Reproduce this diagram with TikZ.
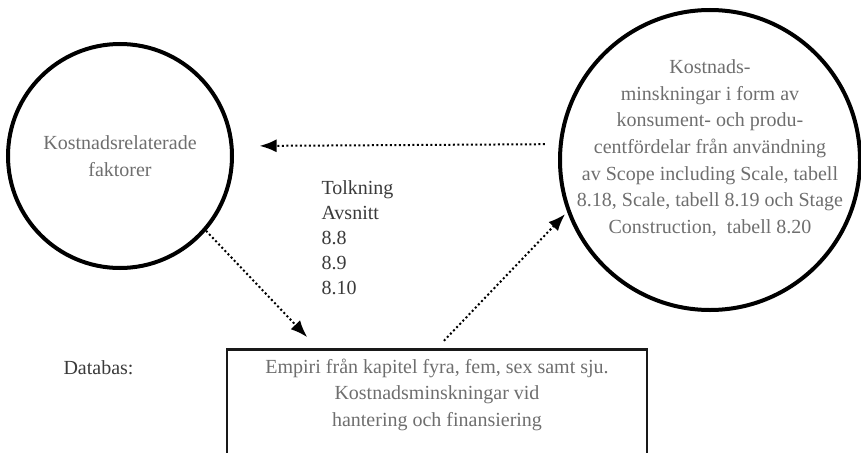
\documentclass[tikz,border=0pt]{standalone}
\usepackage{fontspec}
\setmainfont{Liberation Serif}
\usetikzlibrary{positioning}
\usetikzlibrary{arrows.meta}
\definecolor{textgrey}{HTML}{6E6E6E}
\definecolor{textdark}{HTML}{3A3A3A}
\tikzstyle{ring} = [circle, draw=black, line width=4pt, inner sep=0pt]
\tikzstyle{basebox} = [rectangle, draw=black!90, line width=2.5pt, inner sep=0pt]
\tikzstyle{greytext} = [text=textgrey, align=center,
font=\fontsize{20}{26.7}\selectfont]
\tikzstyle{darktext} = [text=textdark, align=left,
font=\fontsize{20}{25}\selectfont]
\tikzstyle{dotarrow} = [line width=2pt, dash pattern=on 2pt off 2.5pt,
-{Latex[length=17pt,width=13pt]}]

\begin{document}
\begin{tikzpicture}[x=1pt, y=-1pt]
  \useasboundingbox (0,0) rectangle (861,452);
  \clip (0,0) rectangle (861,452);
  % circles
  \node[ring, minimum size=224pt] (factors) at (120,156) {};
  \node[greytext] (factorstext) at (factors)
    {Kostnadsrelaterade\\faktorer};
  \node[ring, minimum size=300pt] (savings) at (710,160) {};
  \node[greytext, yshift=12pt] (savingstext) at (savings)
    {Kostnads-\\minskningar i form av\\konsument- och produ-\\centfördelar från användning\\av Scope including Scale, tabell\\8.18, Scale, tabell 8.19 och Stage\\Construction,\ \ tabell 8.20};
  % database box
  \node[basebox, minimum width=420pt, minimum height=130pt, anchor=north]
    (database) at (437,348) {};
  \node[greytext, below=7pt of database.north] (databasetext)
    {Empiri från kapitel fyra, fem, sex samt sju.\\Kostnadsminskningar vid\\hantering och finansiering};
  % labels
  \node[darktext, anchor=west] (reading) at (318,238)
    {Tolkning\\Avsnitt\\8.8\\8.9\\8.10};
  \node[darktext, anchor=west] (databaslabel) at (60,368) {Databas:};

  % edges
  \draw[dotarrow, shorten <=14pt, shorten >=26pt] (savings.174.6) -- (factors.5);
  \draw[dotarrow, shorten >=15pt] (factors.-41.8) -- ([xshift=91.75pt]database.north west);
  \draw[dotarrow, shorten <=10pt, shorten >=3pt] (database.north) -- (savings.200);
\end{tikzpicture}
\end{document}
